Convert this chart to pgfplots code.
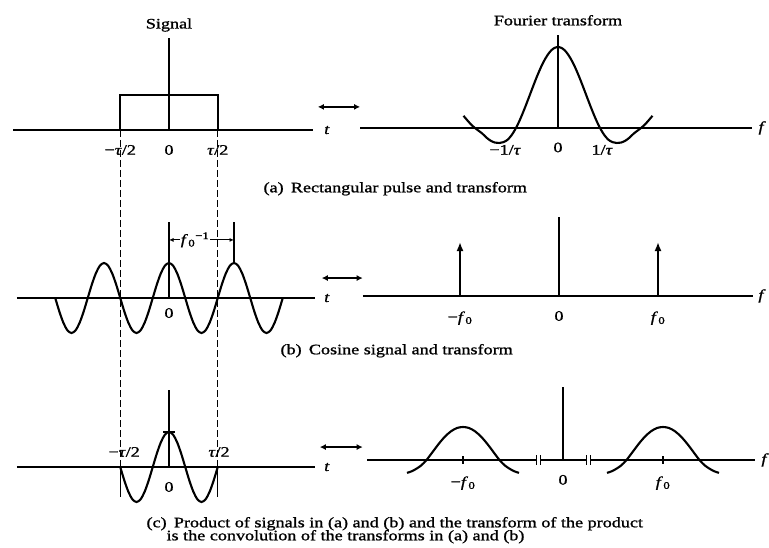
\documentclass[border=0pt]{standalone}
\usepackage{pgfplots}
\pgfplotsset{compat=1.18}
\usepackage{fontspec}
\setmainfont[FakeStretch=1.25, FakeBold=1.2]{Liberation Serif}
\usetikzlibrary{arrows.meta}
\newcommand{\ta}{\textit{τ}}
\newcommand{\fz}{\textit{f}\kern0.5pt\textsubscript{0}}
\tikzset{
  curve/.style={line width=2.1pt, black},
  vline/.style={line width=1.3pt, black},
  dblarrow/.style={line width=1.5pt, {Latex[length=6pt,width=6pt]}-{Latex[length=6pt,width=6pt]}},
}
\pgfplotsset{
  panel/.style={axis x line=middle, axis y line=none,
    axis line style={-, line width=1.4pt},
    xtick=\empty, ytick=\empty, clip=false, anchor=origin},
}
\begin{document}
\begin{tikzpicture}[font=\fontsize{14.5pt}{14pt}\selectfont]
\useasboundingbox (0pt,0pt) rectangle (769pt,547pt);

% ---------- (a) signal: rectangular pulse ----------
\begin{axis}[panel, at={(169pt,417pt)}, x=65pt, y=35pt,
  xmin=-2.4, xmax=2.22, ymin=-1, ymax=3]
\addplot[vline] coordinates {(0,0) (0,2.63)};
\addplot[curve] coordinates {(-0.75,0) (-0.75,1) (0.75,1) (0.75,0)};
\addplot[vline, dash pattern=on 7pt off 3pt] coordinates {(-0.75,0) (-0.75,-10.49)};
\addplot[vline, dash pattern=on 7pt off 3pt] coordinates {(0.75,0) (0.75,-10.49)};
\node at (0,3.0) {Signal};
\node at (-0.75,-0.57) {−\ta/2};
\node at (0,-0.57) {0};
\node at (0.75,-0.57) {\ta/2};
\node at (2.43,0) {\textit{t}};
\draw[dblarrow] (2.29,0.66) -- (2.94,0.66);
\end{axis}

% ---------- (a) transform: sinc ----------
\begin{axis}[panel, at={(558pt,419pt)}, x=42pt, y=81pt,
  xmin=-4.71, xmax=4.62, ymin=-0.5, ymax=1.5]
\addplot[vline] coordinates {(0,0) (0,1.15)};
\addplot[curve, smooth] coordinates {
 (-2.25,0.15) (-2.2,0.12) (-2.1,0.06) (-2.0,0.01) (-1.9,-0.03) (-1.8,-0.07)
 (-1.7,-0.12) (-1.6,-0.158) (-1.5,-0.18) (-1.4,-0.185) (-1.3,-0.175) (-1.2,-0.145)
 (-1.1,-0.085) (-1.0,0) (-0.9,0.109) (-0.8,0.234) (-0.7,0.368) (-0.6,0.505)
 (-0.5,0.637) (-0.4,0.757) (-0.3,0.858) (-0.2,0.936) (-0.1,0.984) (0,1)
 (0.1,0.984) (0.2,0.936) (0.3,0.858) (0.4,0.757) (0.5,0.637) (0.6,0.505)
 (0.7,0.368) (0.8,0.234) (0.9,0.109) (1.0,0) (1.1,-0.085) (1.2,-0.145)
 (1.3,-0.175) (1.4,-0.185) (1.5,-0.18) (1.6,-0.158) (1.7,-0.12) (1.8,-0.07)
 (1.9,-0.03) (2.0,0.01) (2.1,0.06) (2.2,0.12) (2.25,0.15)};
\node at (0,1.33) {Fourier transform};
\node at (-1.26,-0.27) {−1/\ta};
\node at (0,-0.24) {0};
\node at (1.05,-0.27) {1/\ta};
\node at (4.86,0) {\textit{f}};
\end{axis}

% ---------- (b) signal: cosine ----------
\begin{axis}[panel, at={(169pt,249pt)}, x=65pt, y=35pt,
  xmin=-2.34, xmax=2.25, ymin=-1.5, ymax=2.5]
\addplot[vline] coordinates {(0,0) (0,2.17)};
\addplot[vline] coordinates {(1,1) (1,2.17)};
\addplot[curve, smooth] coordinates {
 (-1.75,0) (-1.6875,-0.383) (-1.625,-0.707) (-1.5625,-0.924) (-1.5,-1)
 (-1.4375,-0.924) (-1.375,-0.707) (-1.3125,-0.383) (-1.25,0) (-1.1875,0.383)
 (-1.125,0.707) (-1.0625,0.924) (-1,1) (-0.9375,0.924) (-0.875,0.707)
 (-0.8125,0.383) (-0.75,0) (-0.6875,-0.383) (-0.625,-0.707) (-0.5625,-0.924)
 (-0.5,-1) (-0.4375,-0.924) (-0.375,-0.707) (-0.3125,-0.383) (-0.25,0)
 (-0.1875,0.383) (-0.125,0.707) (-0.0625,0.924) (0,1)
 (0.0625,0.924) (0.125,0.707) (0.1875,0.383) (0.25,0) (0.3125,-0.383)
 (0.375,-0.707) (0.4375,-0.924) (0.5,-1) (0.5625,-0.924) (0.625,-0.707)
 (0.6875,-0.383) (0.75,0) (0.8125,0.383) (0.875,0.707) (0.9375,0.924)
 (1,1) (1.0625,0.924) (1.125,0.707) (1.1875,0.383) (1.25,0) (1.3125,-0.383)
 (1.375,-0.707) (1.4375,-0.924) (1.5,-1) (1.5625,-0.924) (1.625,-0.707)
 (1.6875,-0.383) (1.75,0)};
\draw[line width=0.9pt, {Latex[length=4.5pt,width=4pt]}-{Latex[length=4.5pt,width=4pt]}] (0,1.66) -- (1,1.66);
\node[fill=white, inner sep=1pt] at (0.4,1.66) {\fz\textsuperscript{−1}};
\node at (0,-0.43) {0};
\node at (2.43,0) {\textit{t}};
\draw[dblarrow] (2.35,0.57) -- (2.98,0.57);
\end{axis}

% ---------- (b) transform: impulses ----------
\begin{axis}[panel, at={(559pt,251pt)}, x=99pt, y=54pt,
  xmin=-1.98, xmax=1.96, ymin=-0.8, ymax=1.8]
\addplot[vline] coordinates {(0,0) (0,1.46)};
\addplot[line width=2.1pt, -{Latex[length=9pt,width=7pt]}] coordinates {(-1,0) (-1,1)};
\addplot[line width=2.1pt, -{Latex[length=9pt,width=7pt]}] coordinates {(1,0) (1,1)};
\node at (-1,-0.41) {−\fz};
\node at (0,-0.37) {0};
\node at (1,-0.41) {\fz};
\node at (2.05,0) {\textit{f}};
\end{axis}

% ---------- (c) signal: product ----------
\begin{axis}[panel, at={(169pt,80pt)}, x=65pt, y=35pt,
  xmin=-2.34, xmax=2.25, ymin=-1.5, ymax=2.5]
\addplot[vline] coordinates {(0,0) (0,2.2)};
\addplot[vline] coordinates {(-0.75,0) (-0.75,-0.86)};
\addplot[vline] coordinates {(0.75,0) (0.75,-0.86)};
\addplot[vline] coordinates {(-0.09,1) (0.09,1)};
\addplot[curve, smooth] coordinates {
 (-0.75,0) (-0.6875,-0.383) (-0.625,-0.707) (-0.5625,-0.924)
 (-0.5,-1) (-0.4375,-0.924) (-0.375,-0.707) (-0.3125,-0.383) (-0.25,0)
 (-0.1875,0.383) (-0.125,0.707) (-0.0625,0.924) (0,1)
 (0.0625,0.924) (0.125,0.707) (0.1875,0.383) (0.25,0) (0.3125,-0.383)
 (0.375,-0.707) (0.4375,-0.924) (0.5,-1) (0.5625,-0.924) (0.625,-0.707)
 (0.6875,-0.383) (0.75,0)};
\node at (-0.69,0.43) {−\ta/2};
\node at (0.77,0.43) {\ta/2};
\node at (0,-0.57) {0};
\node at (2.43,0) {\textit{t}};
\draw[dblarrow] (2.32,0.57) -- (2.98,0.57);
\end{axis}

% ---------- (c) transform: shifted lobes ----------
\begin{axis}[panel, at={(563pt,87pt)}, x=100pt, y=33pt,
  xmin=-1.96, xmax=1.92, ymin=-1, ymax=2.5]
\addplot[vline] coordinates {(0,0) (0,2.2)};
\addplot[vline] coordinates {(-1,-0.12) (-1,0.12)};
\addplot[vline] coordinates {(1,-0.12) (1,0.12)};
\addplot[curve, smooth] coordinates {
 (-1.56,-0.39) (-1.52,-0.35) (-1.48,-0.29) (-1.42,-0.17) (-1.365,0)
 (-1.30,0.26) (-1.24,0.50) (-1.18,0.71) (-1.12,0.87) (-1.06,0.97) (-1,1)
 (-0.94,0.97) (-0.88,0.87) (-0.82,0.71) (-0.76,0.50) (-0.70,0.26)
 (-0.635,0) (-0.58,-0.17) (-0.52,-0.29) (-0.48,-0.35) (-0.44,-0.39)};
\addplot[curve, smooth] coordinates {
 (0.44,-0.39) (0.48,-0.35) (0.52,-0.29) (0.58,-0.17) (0.635,0)
 (0.70,0.26) (0.76,0.50) (0.82,0.71) (0.88,0.87) (0.94,0.97) (1,1)
 (1.06,0.97) (1.12,0.87) (1.18,0.71) (1.24,0.50) (1.30,0.26)
 (1.365,0) (1.42,-0.17) (1.48,-0.29) (1.52,-0.35) (1.56,-0.39)};
\fill[white] (-0.265,-0.12) rectangle (-0.235,0.12);
\fill[white] (0.235,-0.12) rectangle (0.265,0.12);
\draw[line width=1pt] (-0.27,-0.15) -- (-0.27,0.15) (-0.23,-0.15) -- (-0.23,0.15);
\draw[line width=1pt] (0.23,-0.15) -- (0.23,0.15) (0.27,-0.15) -- (0.27,0.15);
\node at (-1,-0.7) {−\fz};
\node at (0,-0.6) {0};
\node at (1,-0.7) {\fz};
\node at (2.02,0) {\textit{f}};
\end{axis}

% ---------- captions ----------
\node[anchor=mid west] at (260pt,357pt) {(a)\enspace Rectangular pulse and transform};
\node[anchor=mid west] at (277pt,195pt) {(b)\enspace Cosine signal and transform};
\node[anchor=mid west] at (143pt,22pt) {(c)\enspace Product of signals in (a) and (b) and the transform of the product};
\node[anchor=mid west] at (163pt,9pt) {is the convolution of the transforms in (a) and (b)};
\end{tikzpicture}
\end{document}
